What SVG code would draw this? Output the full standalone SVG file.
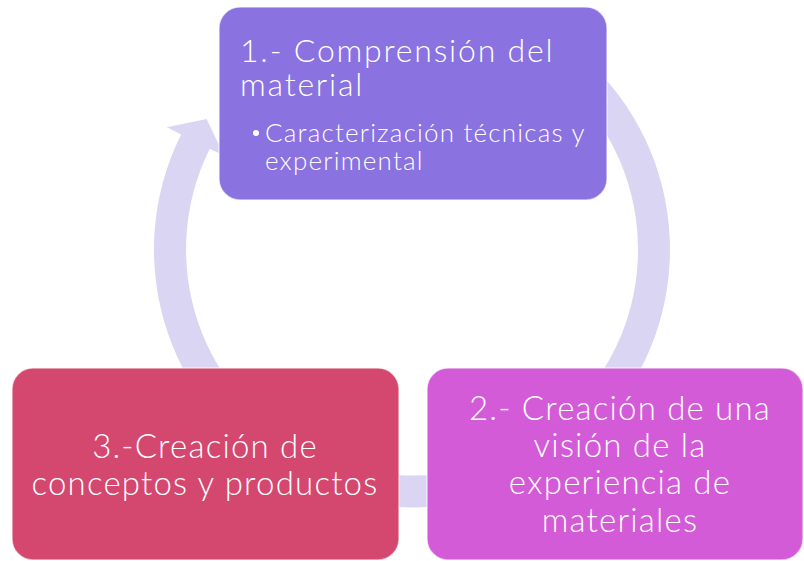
<svg xmlns="http://www.w3.org/2000/svg" width="804" height="561" viewBox="0 0 804 561">
  <style>
    .node { stroke: #ffffff; stroke-opacity: 0.6; stroke-width: 1.5; }
    .t { font-family: Lato, "Liberation Sans", sans-serif; font-weight: 300; fill: #ffffff; }
    .big { font-size: 33px; letter-spacing: 1.2px; }
    .title { font-size: 32px; letter-spacing: 1.8px; }
    .small { font-size: 26px; letter-spacing: 1.2px; }
    .mid { text-anchor: middle; }
  </style>
  <rect width="804" height="561" fill="#ffffff"/>
  <g id="connectors">
    <path fill="#D9D5F3" d="M 521.0 15.7 A 258 258 0 1 1 181.1 134.4 L 166.8 127.2 L 206.6 119.1 L 224.1 155.8 L 209.8 148.7 A 226 226 0 1 0 507.5 44.7 Z"/>
  </g>
  <g id="node1">
    <rect class="node" x="219" y="7" width="388" height="193" rx="21" fill="#8A72E0"/>
    <text class="t title" x="240" y="62">1.- Comprensión del</text>
    <text class="t title" x="240" y="96">material</text>
    <circle cx="256" cy="133" r="3" fill="#ffffff"/>
    <text class="t small" x="265" y="142">Caracterización técnicas y</text>
    <text class="t small" x="265" y="170">experimental</text>
  </g>
  <g id="node2">
    <rect class="node" x="427" y="368" width="376" height="192" rx="21" fill="#D35BD8"/>
    <text class="t big mid" x="620" y="420">2.- Creación de una</text>
    <text class="t big mid" x="620" y="457">visión de la</text>
    <text class="t big mid" x="620" y="494">experiencia de</text>
    <text class="t big mid" x="620" y="532">materiales</text>
  </g>
  <g id="node3">
    <rect class="node" x="12" y="368" width="387" height="192" rx="21" fill="#D4476F"/>
    <text class="t big mid" x="205" y="458">3.-Creación de</text>
    <text class="t big mid" x="205" y="495">conceptos y productos</text>
  </g>
</svg>
